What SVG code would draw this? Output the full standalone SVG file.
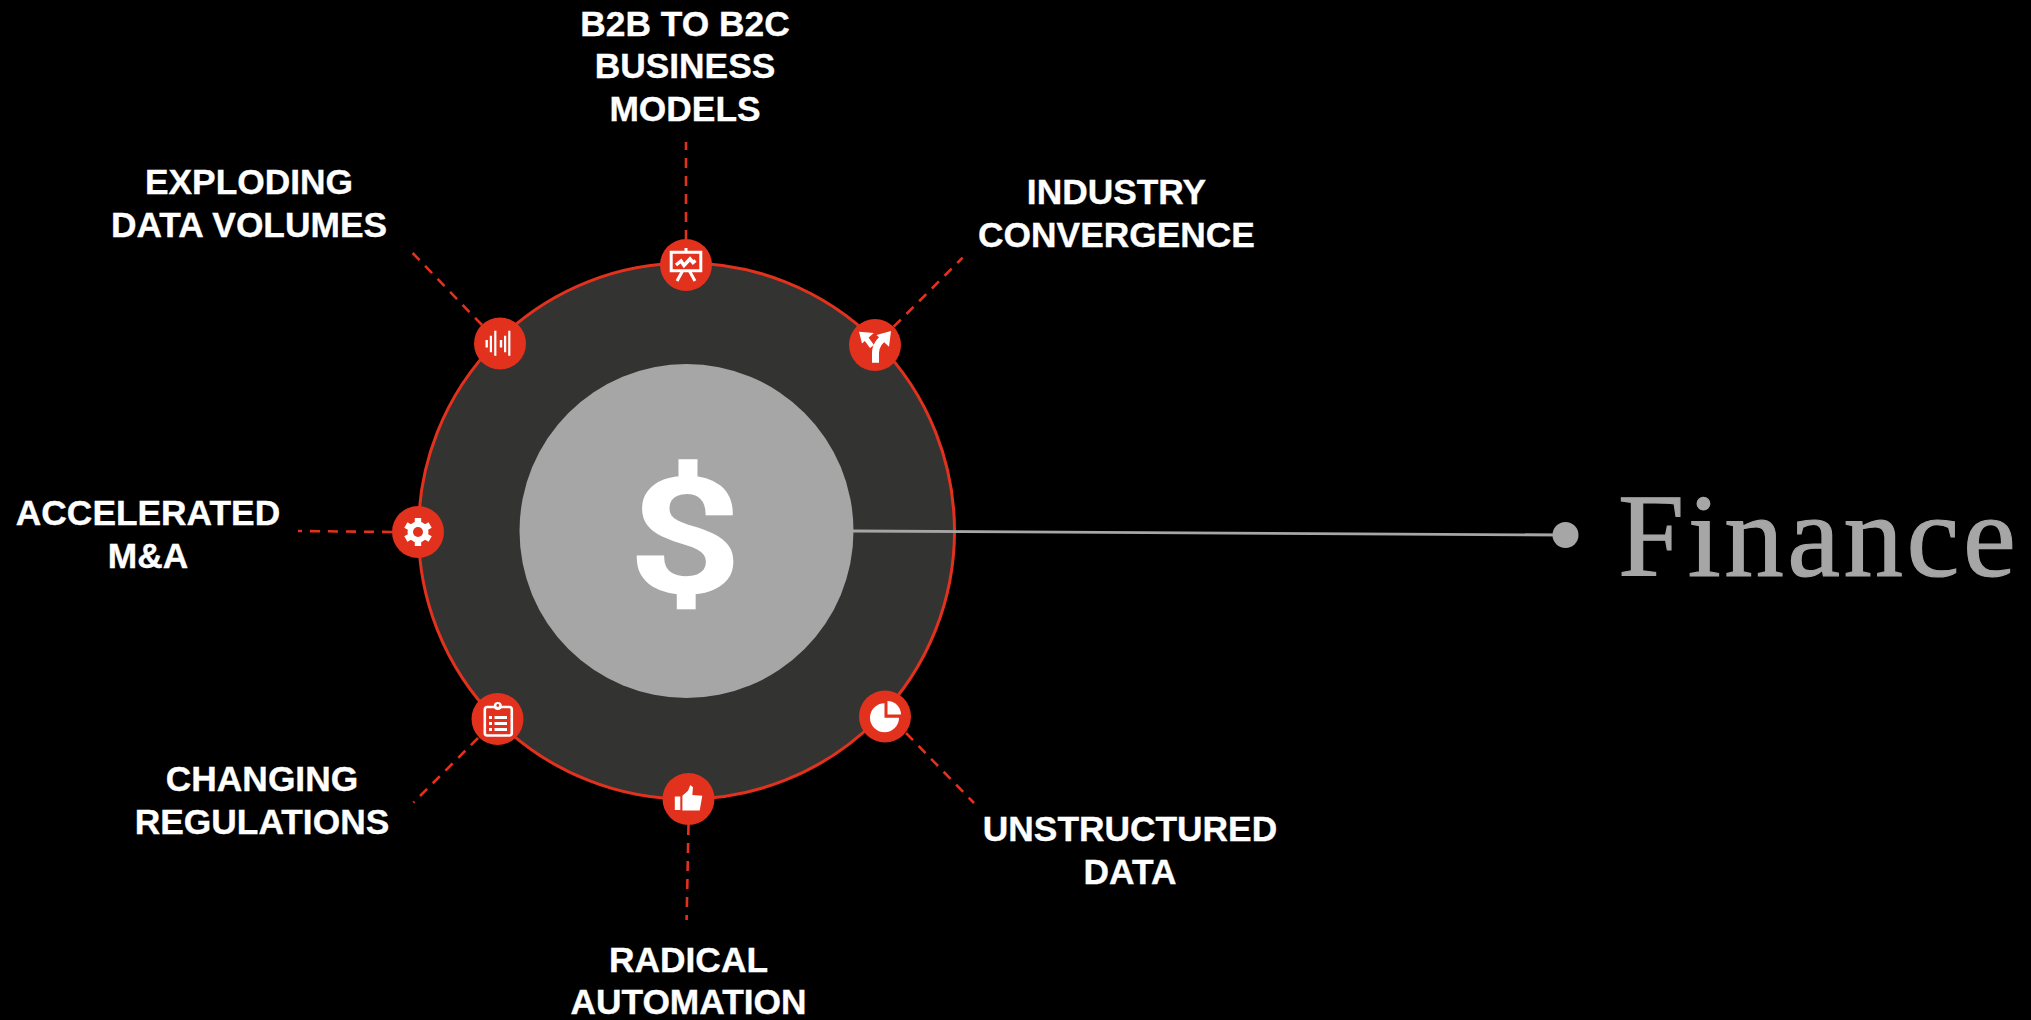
<svg xmlns="http://www.w3.org/2000/svg" width="2031" height="1020" viewBox="0 0 2031 1020">
<style>
.lbl{font-family:"Liberation Sans",Arial,sans-serif;font-weight:700;font-size:35.35px;fill:#fff;stroke:#fff;stroke-width:.35;text-anchor:middle}
.dash{fill:none;stroke:#e2311d;stroke-width:2.6;stroke-dasharray:10 8}
.badge{fill:#e2311d}
.w{fill:#fff}
.ws{fill:none;stroke:#fff}
</style>
<rect width="2031" height="1020" fill="#000"/>
<g id="hub">
<circle cx="686.5" cy="531" r="268" fill="#333331" stroke="#e2311d" stroke-width="3"/>
<circle cx="686.5" cy="531" r="167" fill="#a6a6a6"/>
<text transform="translate(685 590.500) scale(1.17 .94)" font-family="Roboto,'Liberation Sans',sans-serif" font-weight="500" font-size="168" fill="#fff" stroke="#fff" stroke-width="3.500" text-anchor="middle">$</text>
</g>
<g id="connectors">
<path class="dash" d="M686 240V142"/>
<path class="dash" d="M482 325L412.6 253"/>
<path class="dash" d="M893.7 326.7L962.6 257.7"/>
<path class="dash" d="M392 532L298 531"/>
<path class="dash" d="M478 738L413.4 802.7"/>
<path class="dash" d="M906 733L974 803"/>
<path class="dash" d="M688.5 825L686.6 920"/>
<path d="M853 531L1565.5 535" fill="none" stroke="#a6a6a6" stroke-width="2.800"/>
</g>
<g id="node-top">
<circle class="badge" cx="686" cy="265" r="26"/>
<path class="ws" stroke-width="3" d="M671.200 252.200H700.800V270.800H671.200Z"/>
<path class="ws" stroke-width="3" d="M686 248V252M682.500 271L677 281M689.500 271L695 281"/>
<path class="ws" stroke-width="3.500" d="M676 265L681 261L684 265.500L690 259L693 262.500L695.500 260.500"/>
<text class="lbl" x="685" y="35.500">B2B TO B2C</text>
<text class="lbl" x="685" y="77.500">BUSINESS</text>
<text class="lbl" x="685" y="120.500">MODELS</text>
</g>
<g id="node-exploding">
<circle class="badge" cx="500" cy="343.500" r="26"/>
<path class="w" d="M485.500 340h2.400v7.500h-2.400zM489.800 335.700h2.200v16.600h-2.200zM494.200 330.700h2.200v25h-2.200zM499.800 340h2.400v7.500h-2.400zM504 335.700h2.200v16.600h-2.200zM508.200 330.700h2.200v25h-2.200z"/>
<text class="lbl" x="249" y="194">EXPLODING</text>
<text class="lbl" x="249" y="236.500">DATA VOLUMES</text>
</g>
<g id="node-convergence">
<circle class="badge" cx="875" cy="345" r="26"/>
<path class="ws" stroke-width="7" d="M875.500 362.700V353C875.500 345 880 341 885.500 336"/>
<path class="ws" stroke-width="5" d="M872 346.500L865 337"/>
<path class="w" d="M891 331L876.500 335 889 346.700ZM859 331.700L873.800 333 862 343.500Z"/>
<text class="lbl" x="1116.500" y="204">INDUSTRY</text>
<text class="lbl" x="1116.500" y="246.500">CONVERGENCE</text>
</g>
<g id="node-accelerated">
<circle class="badge" cx="418" cy="532" r="26"/>
<g class="w">
<circle cx="418" cy="532" r="10.500"/>
<rect x="414.800" y="518" width="6.400" height="28"/>
<rect x="414.800" y="518" width="6.400" height="28" transform="rotate(60 418 532)"/>
<rect x="414.800" y="518" width="6.400" height="28" transform="rotate(120 418 532)"/>
</g>
<circle class="badge" cx="418" cy="532" r="5"/>
<text class="lbl" x="148" y="525">ACCELERATED</text>
<text class="lbl" x="148" y="568">M&amp;A</text>
</g>
<g id="node-regulations">
<circle class="badge" cx="497.500" cy="719" r="26"/>
<rect class="ws" stroke-width="2.600" x="484.800" y="707" width="27" height="28.500" rx="2.500"/>
<circle class="w" cx="497.800" cy="706" r="4"/>
<circle class="badge" cx="497.800" cy="705.500" r="1.400"/>
<path class="w" d="M489 716h3v3h-3zM489 722h3v3h-3zM489 728h3v3h-3zM494.500 716h12.500v3h-12.500zM494.500 722h12.500v3h-12.500zM494.500 728h12.500v3h-12.500z"/>
<text class="lbl" x="262" y="790.500">CHANGING</text>
<text class="lbl" x="262" y="833.500">REGULATIONS</text>
</g>
<g id="node-unstructured">
<circle class="badge" cx="885" cy="716.500" r="26"/>
<path class="w" d="M884.500 717.700V703.200A14.500 14.500 0 1 0 899 717.700Z"/>
<path class="w" d="M887.500 714.500V701A13.500 13.500 0 0 1 901 714.500Z"/>
<text class="lbl" x="1130" y="840.500">UNSTRUCTURED</text>
<text class="lbl" x="1130" y="883.500">DATA</text>
</g>
<g id="node-automation">
<circle class="badge" cx="688.500" cy="799" r="26"/>
<path class="w" d="M674.800 796.500h5.500v13.500h-5.500zM682.400 795.700L688 790.700 690.300 785 693 787.300 692.300 795 702.300 795.700 699.700 810.500H682.400Z"/>
<text class="lbl" x="688.500" y="971.500">RADICAL</text>
<text class="lbl" x="688.500" y="1014">AUTOMATION</text>
</g>
<g id="finance">
<circle cx="1565.500" cy="535" r="13" fill="#a6a6a6"/>
<text x="1618" y="576" font-family="'Liberation Serif',serif" font-size="119" letter-spacing="3.500" stroke="#a6a6a6" stroke-width="1.200" fill="#a6a6a6">Finance</text>
</g>
</svg>
